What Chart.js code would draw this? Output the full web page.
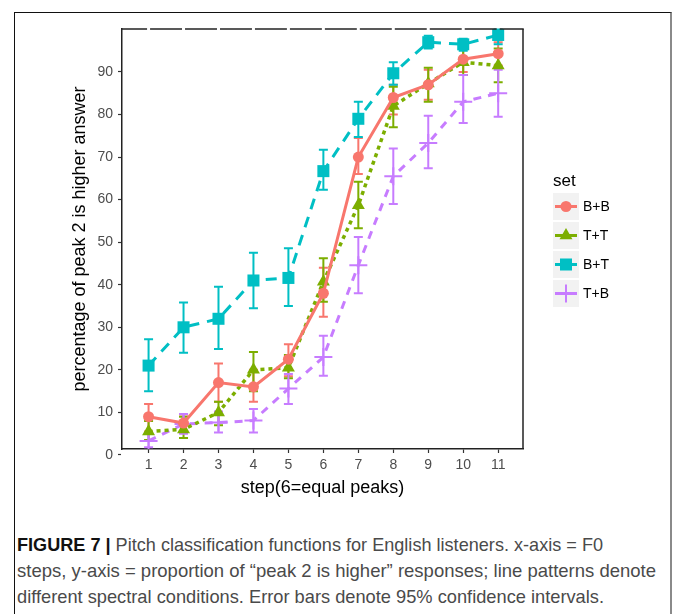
<!DOCTYPE html>
<html lang="en">
<head>
<meta charset="UTF-8">
<title>Pitch classification functions</title>
<script src="https://cdn.jsdelivr.net/npm/chart.js"></script>
<style>
    body {
        margin: 0;
        background: #fff;
        font-family: 'Liberation Sans', Arial, sans-serif;
    }
    .page {
        position: relative;
        width: 674px;
        height: 614px;
        overflow: hidden;
    }
    .frame {
        position: absolute;
        left: 14px;
        top: 12px;
        width: 655px;
        height: 640px;
        border-left: 1.5px solid #111;
        border-top: 1.5px solid #111;
        border-right: 2px solid #8a8a8a;
    }
    #chart {
        position: absolute;
        left: 0;
        top: 0;
    }
    .caption {
        position: absolute;
        left: 17px;
        top: 532px;
        font-size: 19px;
        line-height: 26px;
        color: #4a4a4a;
        white-space: nowrap;
    }
    .caption div {
        transform-origin: left center;
        width: max-content;
    }
    .caption b {
        color: #111;
    }
</style>
</head>
<body>
<div class="page">
    <div class="frame"></div>
    <canvas id="chart" width="674" height="510"></canvas>
    <div class="caption">
        <div data-w="586"><b>FIGURE 7 |</b> Pitch classification functions for English listeners. x-axis = F0</div>
        <div data-w="639">steps, y-axis = proportion of “peak 2 is higher” responses; line patterns denote</div>
        <div data-w="587">different spectral conditions. Error bars denote 95% confidence intervals.</div>
    </div>
</div>

<script>
    // F0 steps (6 = equal peaks)
    const steps = [1, 2, 3, 4, 5, 6, 7, 8, 9, 10, 11];
    const yTicks = [0, 10, 20, 30, 40, 50, 60, 70, 80, 90];
    const setNames = ['B+B', 'T+T', 'B+T', 'T+B'];

    // mean % "peak 2 is higher" and 95% CI bounds per set
    const bbMean = [9, 7.5, 17, 16, 22.5, 38, 70, 84, 87, 93, 94.3];
    const bbLow  = [5.5, 5.5, 12.5, 12.5, 18.5, 32.5, 66, 80, 83.5, 90, 91.5];
    const bbHigh = [12, 9.5, 21.5, 20, 26, 44, 74.5, 87, 90.5, 96, 97];

    const ttMean = [5.5, 6, 10, 20, 20.5, 40.7, 58.7, 82, 87.3, 92.3, 91.5];
    const ttLow  = [3.5, 4, 7, 15, 18, 36, 53.3, 77, 83, 89.3, 87.6];
    const ttHigh = [8, 9, 12.5, 24.2, 23.5, 46.2, 64.2, 86.5, 91, 95.5, 95.5];

    const btMean = [21, 30, 32, 41, 41.6, 66.7, 79, 89.7, 97, 96.5, 98.7];
    const btLow  = [15, 24, 24.9, 34.5, 35, 62.3, 74.7, 87, 95.5, 95, 96.5];
    const btHigh = [27.2, 35.8, 39.5, 47.5, 48.6, 71.7, 83, 92.3, 98.5, 97.8, 100];

    const tbMean = [3.3, 7.3, 7.6, 8.1, 15.6, 23, 44.6, 65.5, 73.3, 83, 85];
    const tbLow  = [1.8, 5, 5.3, 5.3, 12, 18.6, 38, 59, 67.4, 78, 79.5];
    const tbHigh = [5, 9.6, 10.2, 10.8, 19, 28, 51.2, 72, 79.7, 89.3, 90.5];

    const colors = ['#F8766D', '#7CAE00', '#00BFC4', '#C77CFF'];

    function points(values) {
        return steps.map((s, i) => ({ x: s, y: values[i] }));
    }

    // squeeze each caption line to the narrow journal face width
    document.querySelectorAll('.caption div').forEach(line => {
        const w = line.getBoundingClientRect().width;
        line.style.transform = `scaleX(${line.dataset.w / w})`;
    });

    Chart.defaults.font.family = "'Liberation Sans', Arial, sans-serif";

    const datasets = [
        {
            label: setNames[0], data: points(bbMean), errLow: bbLow, errHigh: bbHigh,
            borderColor: colors[0], backgroundColor: colors[0], borderWidth: 3,
            pointStyle: 'circle', pointRadius: 5.5, pointBorderWidth: 0
        },
        {
            label: setNames[1], data: points(ttMean), errLow: ttLow, errHigh: ttHigh,
            borderColor: colors[1], backgroundColor: colors[1], borderWidth: 3.5, borderDash: [4, 4],
            pointStyle: 'triangle', pointRadius: 7.5, pointBorderWidth: 0
        },
        {
            label: setNames[2], data: points(btMean), errLow: btLow, errHigh: btHigh,
            borderColor: colors[2], backgroundColor: colors[2], borderWidth: 3, borderDash: [11, 8],
            pointStyle: 'rect', pointRadius: 8.5, pointBorderWidth: 0
        },
        {
            label: setNames[3], data: points(tbMean), errLow: tbLow, errHigh: tbHigh,
            borderColor: colors[3], backgroundColor: colors[3], borderWidth: 3, borderDash: [8, 7],
            pointStyle: 'cross', pointRadius: 9, pointBorderWidth: 2
        }
    ];

    // vertical CI bars with short caps, under the lines and markers
    const errorBars = {
        id: 'errorBars',
        beforeDatasetsDraw(chart) {
            const ctx = chart.ctx;
            const y = chart.scales.y;
            chart.data.datasets.forEach((ds, i) => {
                const meta = chart.getDatasetMeta(i);
                ctx.save();
                ctx.strokeStyle = ds.borderColor;
                ctx.lineWidth = 2;
                meta.data.forEach((pt, j) => {
                    const top = y.getPixelForValue(ds.errHigh[j]);
                    const bot = y.getPixelForValue(ds.errLow[j]);
                    ctx.beginPath();
                    ctx.moveTo(pt.x, top);
                    ctx.lineTo(pt.x, bot);
                    ctx.moveTo(pt.x - 4.5, top);
                    ctx.lineTo(pt.x + 4.5, top);
                    ctx.moveTo(pt.x - 4.5, bot);
                    ctx.lineTo(pt.x + 4.5, bot);
                    ctx.stroke();
                });
                ctx.restore();
            });
        }
    };

    // right and top panel border (the top one broken at each x tick)
    const panelFrame = {
        id: 'panelFrame',
        afterDraw(chart) {
            const { ctx, chartArea: a } = chart;
            const x = chart.scales.x;
            ctx.save();
            ctx.strokeStyle = '#222';
            ctx.lineWidth = 1.5;
            ctx.beginPath();
            ctx.moveTo(a.right, a.top);
            ctx.lineTo(a.right, a.bottom);
            ctx.stroke();
            let start = a.left - 0.75;
            steps.forEach(s => {
                const px = x.getPixelForValue(s);
                ctx.beginPath();
                ctx.moveTo(start, a.top);
                ctx.lineTo(px - 1.5, a.top);
                ctx.stroke();
                start = px + 1.5;
            });
            ctx.beginPath();
            ctx.moveTo(start, a.top);
            ctx.lineTo(a.right + 0.75, a.top);
            ctx.stroke();
            ctx.restore();
        }
    };

    // ggplot-style legend to the right of the panel
    const sideLegend = {
        id: 'sideLegend',
        afterDraw(chart) {
            const ctx = chart.ctx;
            const left = 553, firstTop = 193, keyW = 26, keyH = 27, gap = 2;
            ctx.save();
            ctx.fillStyle = '#000';
            ctx.font = "17px 'Liberation Sans', Arial, sans-serif";
            ctx.textBaseline = 'middle';
            ctx.fillText('set', left, 181);
            chart.data.datasets.forEach((ds, i) => {
                const top = firstTop + i * (keyH + gap);
                const cy = top + keyH / 2;
                const cx = left + keyW / 2;
                ctx.fillStyle = '#f2f2f2';
                ctx.fillRect(left, top, keyW, keyH);
                ctx.strokeStyle = ds.borderColor;
                ctx.lineWidth = 3;
                ctx.beginPath();
                ctx.moveTo(left + 2, cy);
                ctx.lineTo(left + keyW - 2, cy);
                ctx.stroke();
                const el = chart.getDatasetMeta(i).data[0];
                const ox = el.x, oy = el.y;
                el.x = cx;
                el.y = cy;
                el.draw(ctx);
                el.x = ox;
                el.y = oy;
                ctx.fillStyle = '#000';
                ctx.font = "14px 'Liberation Sans', Arial, sans-serif";
                ctx.fillText(ds.label, left + keyW + 4, cy + 1);
            });
            ctx.restore();
        }
    };

    new Chart(document.getElementById('chart'), {
        type: 'line',
        data: { datasets },
        options: {
            responsive: false,
            animation: false,
            layout: { padding: { left: 66, top: 29, right: 151, bottom: 11 } },
            plugins: { legend: { display: false }, tooltip: { enabled: false } },
            elements: { line: { tension: 0 } },
            scales: {
                x: {
                    type: 'linear',
                    min: 0.24,
                    max: 11.71,
                    afterFit(s) { s.height = 50; },
                    afterBuildTicks(s) { s.ticks = steps.map(v => ({ value: v })); },
                    ticks: { color: '#4d4d4d', font: { size: 14 }, padding: 4, maxRotation: 0 },
                    grid: { drawOnChartArea: false, tickLength: 4, color: '#333', tickWidth: 1.2 },
                    border: { color: '#222', width: 1.5 },
                    title: { display: true, text: 'step(6=equal peaks)', color: '#000', font: { size: 18 }, padding: { top: 0, bottom: 0 } }
                },
                y: {
                    min: 1.4,
                    max: 100.1,
                    afterFit(s) { s.width = 56; },
                    afterBuildTicks(s) { s.ticks = yTicks.map(v => ({ value: v })); },
                    ticks: { color: '#4d4d4d', font: { size: 14 }, padding: 5 },
                    grid: { drawOnChartArea: false, tickLength: 4, color: '#333', tickWidth: 1.2 },
                    border: { color: '#222', width: 1.5 },
                    title: { display: true, text: 'percentage of peak 2 is higher answer', color: '#000', font: { size: 18 }, padding: { top: 3, bottom: 0 } }
                }
            }
        },
        plugins: [errorBars, panelFrame, sideLegend]
    });
</script>
</body>
</html>
